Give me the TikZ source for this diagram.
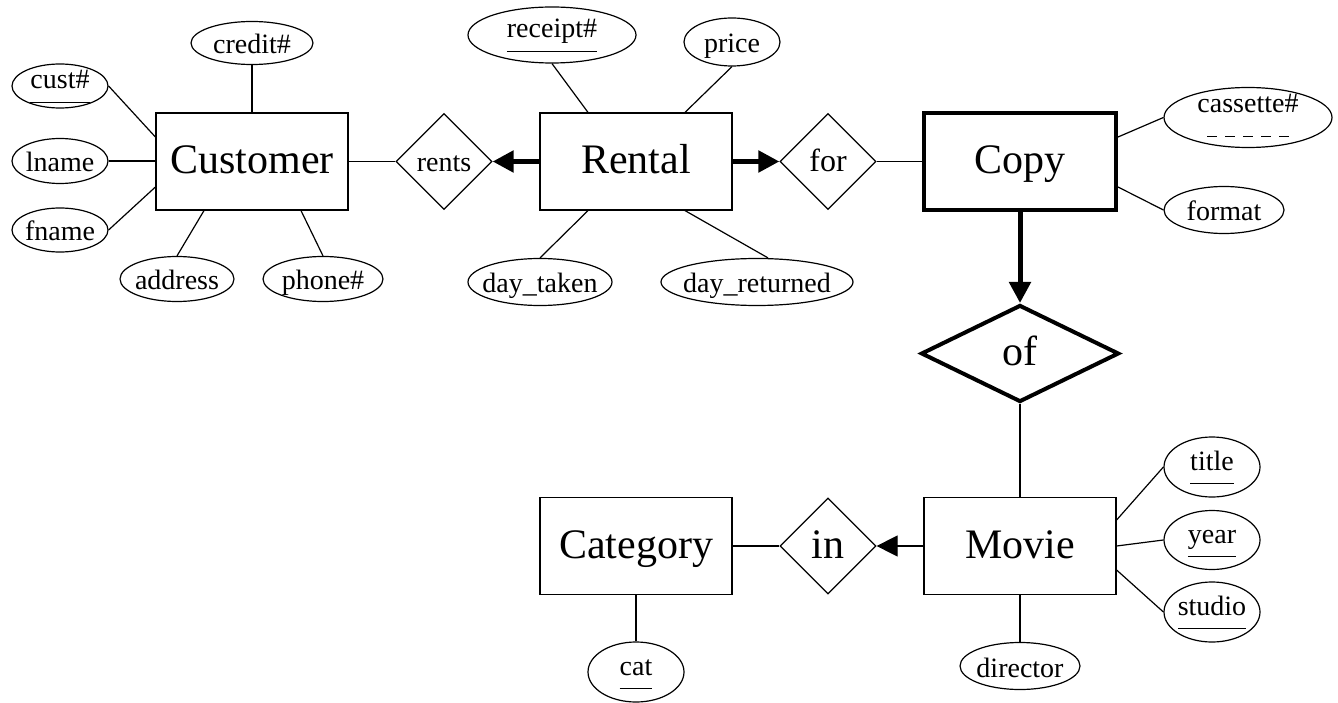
\documentclass[tikz,border=0pt]{standalone}
\usepackage{fontspec}
\setmainfont{Liberation Serif}
\usetikzlibrary{shapes.geometric,arrows.meta}

% centred text of zero width, so the shapes keep their own sizes
\newcommand\ctr[1]{\makebox[0pt][c]{#1}}
% key attribute: solid underline
\newcommand\keyul[1]{\setbox0=\hbox{#1}\dp0=0pt\vtop{\copy0\kern13pt\hrule height 1.2pt}}
% partial key: dashed underline
\newcommand\partul[1]{\setbox0=\hbox{#1}\dp0=0pt\vtop{\copy0\kern23pt\nointerlineskip
  \hbox to\wd0{\hfil\cleaders\hbox to 18pt{\hss\vrule height 1.2pt width 10pt\hss}\hskip 90pt\hfil}}}

\tikzset{
  ent/.style={rectangle, draw, line width=1.2pt, inner sep=0pt,
    minimum width=192pt, minimum height=97pt,
    text height=24pt, text depth=0pt, font=\fontsize{42}{50}\selectfont},
  weakent/.style={ent, line width=4pt},
  rel/.style 2 args={diamond, draw, line width=1.2pt, inner sep=0pt,
    minimum width=#1, minimum height=#2},
  smallrel/.style={rel={96pt}{96pt}, text height=21pt, text depth=0pt},
  bigrel/.style={text height=24pt, text depth=0pt, font=\fontsize{42}{50}\selectfont},
  attr/.style 2 args={ellipse, draw, line width=1.2pt, inner sep=0pt,
    minimum width=#1, minimum height=#2,
    text height=22pt, text depth=0pt, font=\fontsize{28}{34}\selectfont},
  keyattr/.style={text height=6pt, text depth=0pt},
  partattr/.style={text height=0pt, text depth=9pt},
  link/.style={line width=1.2pt},
  heavy/.style={line width=5pt, -{Triangle[length=21pt,width=21pt]}},
  light/.style={line width=1.2pt, -{Triangle[length=21pt,width=21pt]}},
}

\begin{document}
\begin{tikzpicture}[x=1pt, y=-1pt]
\useasboundingbox (0,0) rectangle (1338,703);

% entities
\node[ent] (customer) at (252,161.5) {\ctr{Customer}};
\node[ent] (rental)   at (636,161.5) {\ctr{Rental}};
\node[weakent] (copy) at (1020,161.5) {\ctr{Copy}};
\node[ent] (movie)    at (1020,546) {\ctr{Movie}};
\node[ent] (category) at (636,546) {\ctr{Category}};

% relationships
\node[smallrel, font=\fontsize{28}{34}\selectfont] (rents) at (444,161.5) {\ctr{rents}};
\node[smallrel, font=\fontsize{32}{38}\selectfont] (for) at (828,161.5) {\ctr{for}};
\node[rel={198pt}{97pt}, bigrel, line width=4pt] (of) at (1020,353.5) {\ctr{of}};
\node[rel={96pt}{96pt}, bigrel] (in) at (828,546) {\ctr{in}};

% attributes of Customer
\node[attr={96pt}{44pt}, keyattr] (cust) at (60,86) {\ctr{\keyul{cust\#}}};
\node[attr={96pt}{45pt}] (lname) at (60,161) {\ctr{lname}};
\node[attr={96pt}{44pt}] (fname) at (60,230) {\ctr{fname}};
\node[attr={122pt}{43pt}] (credit) at (252,43) {\ctr{credit\#}};
\node[attr={114pt}{45pt}] (address) at (177,279) {\ctr{address}};
\node[attr={120pt}{45pt}] (phone) at (323,279) {\ctr{phone\#}};

% attributes of Rental
\node[attr={168pt}{56pt}, keyattr] (receipt) at (552,35) {\ctr{\keyul{receipt\#}}};
\node[attr={96pt}{48pt}] (price) at (732,42) {\ctr{price}};
\node[attr={144pt}{47pt}] (daytaken) at (540,282) {\ctr{day\_taken}};
\node[attr={192pt}{47pt}] (dayret) at (757,282) {\ctr{day\_returned}};

% attributes of Copy
\node[attr={168pt}{60pt}, partattr] (cassette) at (1248,117.5) {\ctr{\partul{cassette\#}}};
\node[attr={120pt}{47pt}] (format) at (1224,210) {\ctr{format}};

% attributes of Movie
\node[attr={96pt}{60pt}, keyattr] (title) at (1212,467) {\ctr{\keyul{title}}};
\node[attr={96pt}{59pt}, keyattr] (year) at (1212,540) {\ctr{\keyul{year}}};
\node[attr={96pt}{60pt}, keyattr] (studio) at (1212,612) {\ctr{\keyul{studio}}};
\node[attr={120pt}{47pt}] (director) at (1020,666) {\ctr{director}};

% attribute of Category
\node[attr={96pt}{60pt}, keyattr] (cat) at (636,672) {\ctr{\keyul{cat}}};

% attribute links
\draw[link] (cust.east) -- ([yshift=24.5pt]customer.west);
\draw[link] (lname.east) -- (customer.west |- lname.east);
\draw[link] (fname.east) -- ([yshift=-25.5pt]customer.west);
\draw[link] (credit.south) -- (customer.north);
\draw[link] (address.north) -- ([xshift=-48pt]customer.south);
\draw[link] (phone.north) -- ([xshift=49pt]customer.south);

\draw[link] (receipt.south) -- ([xshift=-48pt]rental.north);
\draw[link] (price.south) -- ([xshift=49pt]rental.north);
\draw[link] (daytaken.north) -- ([xshift=-48pt]rental.south);
\draw[link] ([xshift=11pt]dayret.north) -- ([xshift=49pt]rental.south);

\draw[link] (cassette.west) -- ([yshift=24.5pt]copy.east);
\draw[link] (format.west) -- ([yshift=-25.5pt]copy.east);

\draw[link] (title.west) -- ([yshift=26pt]movie.east);
\draw[link] (year.west) -- (movie.east);
\draw[link] (studio.west) -- ([yshift=-24pt]movie.east);
\draw[link] (director.north) -- (movie.south);

\draw[link] (cat.north) -- (category.south);

% relationship links
\draw[link] (customer.east) -- (rents.west);
\draw[heavy] (rental.west) -- (rents.east);
\draw[heavy] (rental.east) -- (for.west);
\draw[link] (for.east) -- (copy.west);
\draw[heavy] (copy.south) -- (of.north);
\draw[link] (of.south) -- (movie.north);
\draw[light] (movie.west) -- (in.east);
\draw[link] (category.east) -- (in.west);
\end{tikzpicture}
\end{document}
